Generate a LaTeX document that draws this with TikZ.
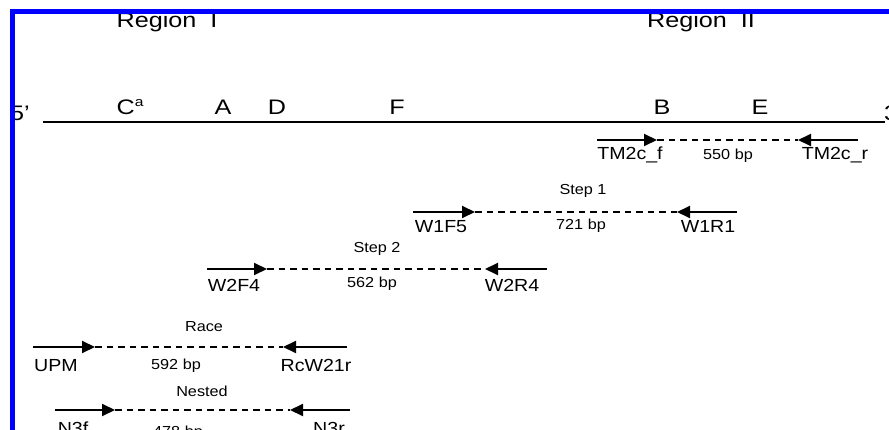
\documentclass[tikz,border=0pt]{standalone}
\usepackage{fontspec}
\setmainfont{Liberation Sans}
\usepackage{graphicx}
\usetikzlibrary{arrows.meta}
\newcommand{\stx}[2][1.12]{\scalebox{#1}[1]{#2}}
\begin{document}
\begin{tikzpicture}[x=1pt,y=-1pt,
  big/.style={font=\fontsize{21}{21}\selectfont, inner sep=0pt, anchor=base},
  plabel/.style={font=\fontsize{17.5}{18}\selectfont, inner sep=0pt, anchor=base},
  small/.style={font=\fontsize{14.5}{15}\selectfont, inner sep=0pt, anchor=base},
  primer/.style={line width=2pt, -{Triangle[length=13pt,width=12pt]}},
  product/.style={line width=2pt, dash pattern=on 6.5pt off 5pt},
  strand/.style={line width=2pt},
  frame/.style={line width=5pt, draw=blue}]
\useasboundingbox (0,0) rectangle (889,430);

% region titles
\node[big] (reg1) at (167,28) {\stx[1.2]{Region\ \ I}};
\node[big] (reg2) at (701,28) {\stx[1.2]{Region\ \ II}};

% main strand
\node[big, anchor=base west] (end5) at (10,121) {\stx[1.2]{5'}};
\node[big, anchor=base west] (end3) at (884,121) {\stx[1.2]{3'}};
\coordinate (s5) at (43,122);
\coordinate (s3) at (885,122);
\draw[strand] (s5) -- (s3);

% sites
\node[big] (siteC) at (130,115) {\stx[1.2]{C\raisebox{0.42em}{\fontsize{13}{13}\selectfont a}}};
\node[big] (siteA) at (223,115) {\stx[1.2]{A}};
\node[big] (siteD) at (277,115) {\stx[1.2]{D}};
\node[big] (siteF) at (397,115) {\stx[1.2]{F}};
\node[big] (siteB) at (662,115) {\stx[1.2]{B}};
\node[big] (siteE) at (760,115) {\stx[1.2]{E}};

% TM2c row
\coordinate (tfs) at (597,140); \coordinate (tft) at (657,140);
\coordinate (trt) at (798,140); \coordinate (trs) at (858,140);
\draw[primer] (tfs) -- (tft);
\draw[primer] (trs) -- (trt);
\draw[product] (tft) -- (trt);
\node[plabel] (tmf) at (630,160) {\stx{TM2c\_f}};
\node[small] (tmbp) at (728,160) {\stx{550 bp}};
\node[plabel] (tmr) at (835,160) {\stx{TM2c\_r}};

% Step 1 row
\coordinate (afs) at (413,212); \coordinate (aft) at (475,212);
\coordinate (art) at (677,212); \coordinate (ars) at (737,212);
\draw[primer] (afs) -- (aft);
\draw[primer] (ars) -- (art);
\draw[product] (aft) -- (art);
\node[small] (st1) at (583,195) {\stx{Step 1}};
\node[plabel] (w1f) at (441,233) {\stx{W1F5}};
\node[small] (w1bp) at (581,230) {\stx{721 bp}};
\node[plabel] (w1r) at (708,233) {\stx{W1R1}};

% Step 2 row
\coordinate (bfs) at (207,269); \coordinate (bft) at (267,269);
\coordinate (brt) at (485,269); \coordinate (brs) at (547,269);
\draw[primer] (bfs) -- (bft);
\draw[primer] (brs) -- (brt);
\draw[product] (bft) -- (brt);
\node[small] (st2) at (377,253) {\stx{Step 2}};
\node[plabel] (w2f) at (234,292) {\stx{W2F4}};
\node[small] (w2bp) at (372,288) {\stx{562 bp}};
\node[plabel] (w2r) at (512,292) {\stx{W2R4}};

% Race row
\coordinate (cfs) at (33,347); \coordinate (cft) at (95,347);
\coordinate (crt) at (283,347); \coordinate (crs) at (347,347);
\draw[primer] (cfs) -- (cft);
\draw[primer] (crs) -- (crt);
\draw[product] (cft) -- (crt);
\node[small] (race) at (204,331) {\stx{Race}};
\node[plabel] (upm) at (56,371) {\stx{UPM}};
\node[small] (rbp) at (176,369) {\stx{592 bp}};
\node[plabel] (rcw) at (316,371) {\stx{RcW21r}};

% Nested row
\coordinate (dfs) at (55,410); \coordinate (dft) at (115,410);
\coordinate (drt) at (290,410); \coordinate (drs) at (350,410);
\draw[primer] (dfs) -- (dft);
\draw[primer] (drs) -- (drt);
\draw[product] (dft) -- (drt);
\node[small] (nest) at (202,396) {\stx{Nested}};
\node[plabel] (n3f) at (73,434) {\stx{N3f}};
\node[small] (nbp) at (178,436) {\stx{478 bp}};
\node[plabel] (n3r) at (329,434) {\stx{N3r}};

% frame
\draw[frame] (12,432) -- (12,12) -- (891,12);
\end{tikzpicture}
\end{document}
